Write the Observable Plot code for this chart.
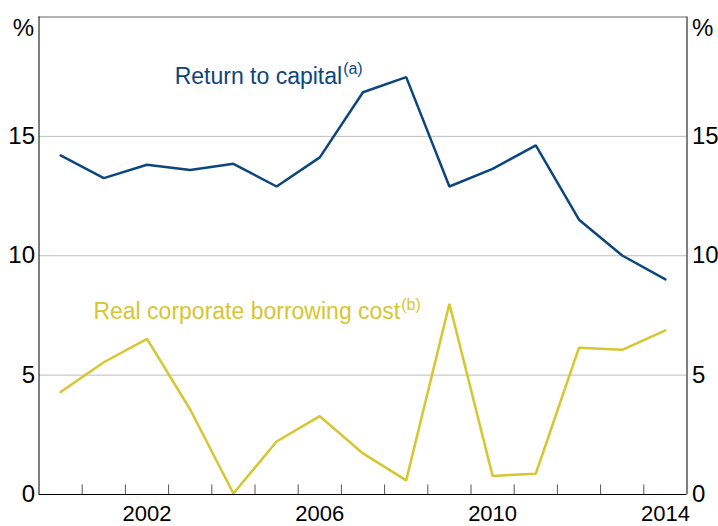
<!DOCTYPE html>
<html>
<head>
<meta charset="utf-8">
<script src="https://cdn.jsdelivr.net/npm/d3@7"></script>
<script src="https://cdn.jsdelivr.net/npm/@observablehq/plot@0.6"></script>
<style>
  html, body { margin: 0; padding: 0; background: #fff; }
  svg { display: block; font-family: "Liberation Sans", Arial, sans-serif; }
</style>
</head>
<body>
<div id="chart"></div>
<script>
const years = [2000, 2001, 2002, 2003, 2004, 2005, 2006, 2007, 2008, 2009, 2010, 2011, 2012, 2013, 2014];
const returnToCapital = [14.20, 13.25, 13.81, 13.59, 13.85, 12.90, 14.12, 16.85, 17.48, 12.90, 13.64, 14.62, 11.51, 10.01, 9.01];
const borrowingCost = [4.29, 5.54, 6.52, 3.56, 0.04, 2.22, 3.28, 1.72, 0.59, 7.99, 0.78, 0.87, 6.15, 6.06, 6.87];
const xTickLabels = [2002, 2006, 2010, 2014];
const yTicks = [0, 5, 10, 15];
const gridValues = [5, 10, 15];
const minorTicks = [2000.5, 2001.5, 2002.5, 2003.5, 2004.5, 2005.5, 2006.5, 2007.5, 2008.5, 2009.5, 2010.5, 2011.5, 2012.5, 2013.5];
const seriesLabels = [
  {x: 2002.64, y: 17.52, text: "Return to capital", sup: "(a)", color: "#0d467c"},
  {x: 2000.76, y: 7.64, text: "Real corporate borrowing cost", sup: "(b)", color: "#d6c630"}
];

const blue = "#0d467c";
const yellow = "#d6c630";

const capData = years.map((y, i) => ({year: y, value: returnToCapital[i]}));
const costData = years.map((y, i) => ({year: y, value: borrowingCost[i]}));

const chart = Plot.plot({
  width: 718,
  height: 526,
  marginLeft: 38.5,
  marginRight: 31.5,
  marginTop: 16.5,
  marginBottom: 32,
  style: {fontFamily: "'Liberation Sans', Arial, sans-serif", background: "#fff", color: "#000"},
  x: {domain: [1999.5, 2014.5], axis: null},
  y: {domain: [0, 20], axis: null},
  marks: [
    Plot.ruleY(gridValues, {stroke: "#bdbdbd", strokeWidth: 1}),
    Plot.ruleX(minorTicks, {y1: 0, y2: 0.4, stroke: "#555", strokeWidth: 1}),
    Plot.line(costData, {x: "year", y: "value", stroke: yellow, strokeWidth: 2.5, strokeLinejoin: "miter"}),
    Plot.line(capData, {x: "year", y: "value", stroke: blue, strokeWidth: 2.5, strokeLinejoin: "miter"}),
    Plot.ruleY([20], {stroke: "#666", strokeWidth: 1}),
    Plot.ruleY([0], {stroke: "#000", strokeWidth: 1}),
    Plot.ruleX([1999.5, 2014.5], {stroke: "#000", strokeWidth: 1}),
    Plot.axisX(xTickLabels, {anchor: "bottom", tickSize: 0, tickPadding: 10.5, fontSize: 22, tickFormat: d => String(d)}),
    Plot.axisY(yTicks, {anchor: "left", tickSize: 0, tickPadding: 4, fontSize: 24, label: null}),
    Plot.axisY(yTicks, {anchor: "right", tickSize: 0, tickPadding: 5, fontSize: 24, label: null}),
    Plot.text(["%"], {x: 1999.5, y: 20, dx: -5, dy: 11, textAnchor: "end", fontSize: 24, fill: "#000"}),
    Plot.text(["%"], {x: 2014.5, y: 20, dx: 5, dy: 11, textAnchor: "start", fontSize: 24, fill: "#000"}),
    Plot.text(seriesLabels, {x: "x", y: "y", text: "text", fill: "color", textAnchor: "start", fontSize: 23, className: "series-label"})
  ]
});

// add superscripts
const labelTexts = chart.querySelectorAll(".series-label text");
labelTexts.forEach((t, i) => {
  const ts = document.createElementNS("http://www.w3.org/2000/svg", "tspan");
  ts.setAttribute("font-size", "16");
  ts.setAttribute("dy", "-0.6em");
  ts.setAttribute("dx", "1");
  ts.textContent = seriesLabels[i].sup;
  t.appendChild(ts);
});

document.getElementById("chart").appendChild(chart);
</script>
</body>
</html>
